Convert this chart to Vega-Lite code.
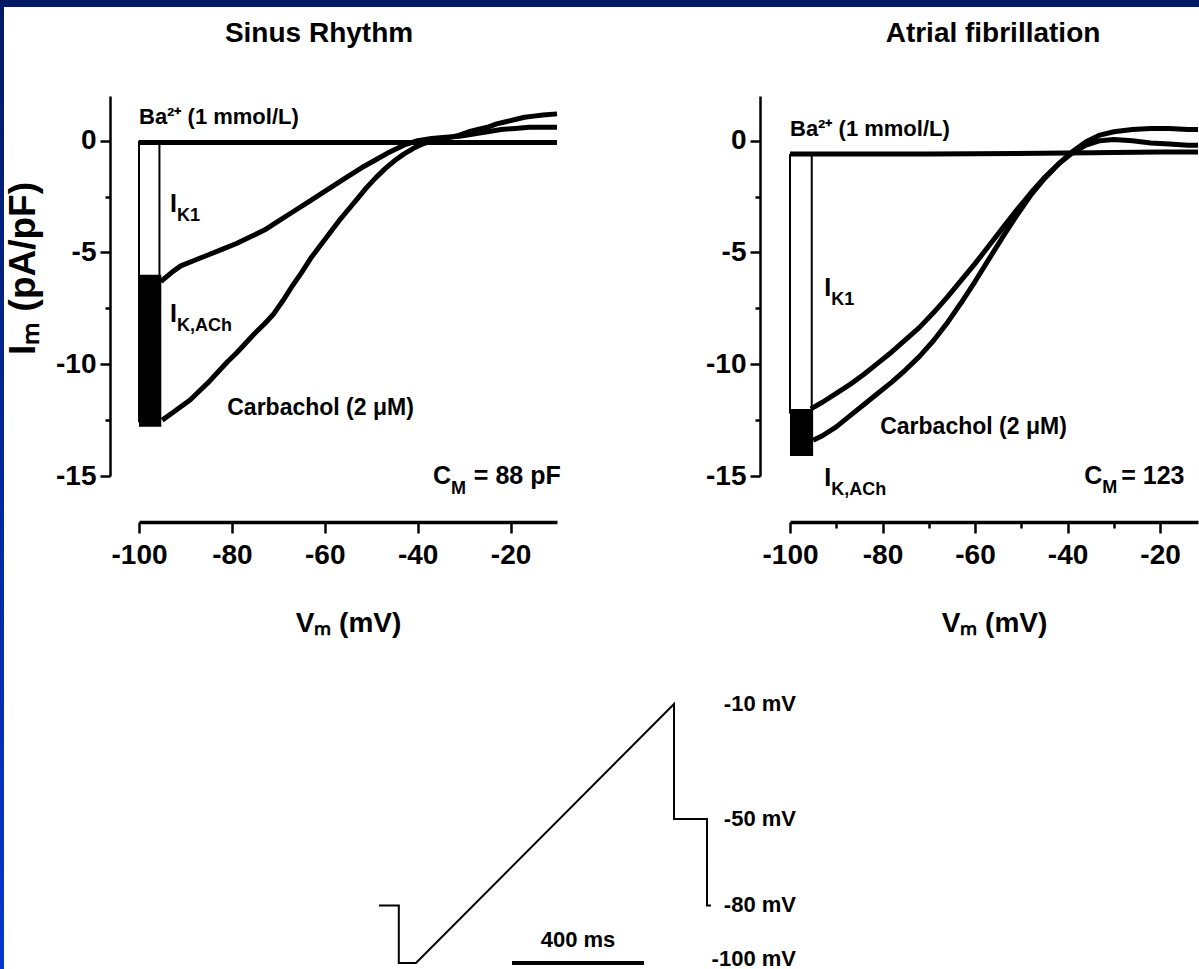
{
"$schema":"https://vega.github.io/schema/vega-lite/v6.json",
"padding":0,
"background":"white",
"config":{
 "view":{"stroke":null},
 "font":"Liberation Sans, Arial, sans-serif",
 "axis":{"grid":false,"domainColor":"black","tickColor":"black","labelColor":"black","titleColor":"black","labelFont":"Liberation Sans, Arial, sans-serif","labelFontWeight":"bold","labelFontSize":28,"titleFont":"Liberation Sans, Arial, sans-serif","titleFontWeight":"bold","titleFontSize":28,"domainWidth":2.5,"tickWidth":2.5,"labelFlush":false,"labelOverlap":false},
 "title":{"font":"Liberation Sans, Arial, sans-serif","fontWeight":"bold","fontSize":28,"color":"black"},
 "text":{"font":"Liberation Sans, Arial, sans-serif","fontWeight":"bold","color":"black"}
},
"datasets":{
 "lt":[
  {"s":"ba","v":-100,"i":-0.08},{"s":"ba","v":-70,"i":-0.08},{"s":"ba","v":-40,"i":-0.08},{"s":"ba","v":-10,"i":-0.08},
  {"s":"ctrl","v":-95.3,"i":-6.3},{"s":"ctrl","v":-93,"i":-5.9},{"s":"ctrl","v":-91,"i":-5.6},{"s":"ctrl","v":-88,"i":-5.35},{"s":"ctrl","v":-85,"i":-5.1},{"s":"ctrl","v":-82,"i":-4.85},{"s":"ctrl","v":-79,"i":-4.6},{"s":"ctrl","v":-76,"i":-4.3},{"s":"ctrl","v":-73,"i":-4.0},{"s":"ctrl","v":-70,"i":-3.6},{"s":"ctrl","v":-67,"i":-3.2},{"s":"ctrl","v":-64,"i":-2.8},{"s":"ctrl","v":-61,"i":-2.4},{"s":"ctrl","v":-58,"i":-2.0},{"s":"ctrl","v":-55,"i":-1.6},{"s":"ctrl","v":-52,"i":-1.2},{"s":"ctrl","v":-49,"i":-0.85},{"s":"ctrl","v":-46,"i":-0.5},{"s":"ctrl","v":-43,"i":-0.2},{"s":"ctrl","v":-40,"i":0.0},{"s":"ctrl","v":-37,"i":0.1},{"s":"ctrl","v":-34,"i":0.15},{"s":"ctrl","v":-31,"i":0.2},{"s":"ctrl","v":-28,"i":0.3},{"s":"ctrl","v":-25,"i":0.4},{"s":"ctrl","v":-22,"i":0.5},{"s":"ctrl","v":-19,"i":0.55},{"s":"ctrl","v":-16,"i":0.6},{"s":"ctrl","v":-13,"i":0.6},{"s":"ctrl","v":-10,"i":0.6},
  {"s":"cch","v":-95,"i":-12.5},{"s":"cch","v":-93,"i":-12.2},{"s":"cch","v":-91,"i":-11.9},{"s":"cch","v":-89,"i":-11.6},{"s":"cch","v":-87,"i":-11.2},{"s":"cch","v":-85,"i":-10.8},{"s":"cch","v":-83,"i":-10.35},{"s":"cch","v":-81,"i":-9.9},{"s":"cch","v":-79,"i":-9.5},{"s":"cch","v":-77,"i":-9.05},{"s":"cch","v":-75,"i":-8.6},{"s":"cch","v":-73,"i":-8.2},{"s":"cch","v":-71,"i":-7.75},{"s":"cch","v":-69,"i":-7.15},{"s":"cch","v":-67,"i":-6.5},{"s":"cch","v":-65,"i":-5.9},{"s":"cch","v":-63,"i":-5.25},{"s":"cch","v":-61,"i":-4.7},{"s":"cch","v":-59,"i":-4.15},{"s":"cch","v":-57,"i":-3.6},{"s":"cch","v":-55,"i":-3.1},{"s":"cch","v":-53,"i":-2.6},{"s":"cch","v":-51,"i":-2.1},{"s":"cch","v":-49,"i":-1.65},{"s":"cch","v":-47,"i":-1.25},{"s":"cch","v":-45,"i":-0.9},{"s":"cch","v":-43,"i":-0.6},{"s":"cch","v":-41,"i":-0.35},{"s":"cch","v":-39,"i":-0.15},{"s":"cch","v":-37,"i":0.0},{"s":"cch","v":-35,"i":0.05},{"s":"cch","v":-33,"i":0.15},{"s":"cch","v":-31,"i":0.25},{"s":"cch","v":-29,"i":0.4},{"s":"cch","v":-27,"i":0.5},{"s":"cch","v":-25,"i":0.6},{"s":"cch","v":-23,"i":0.75},{"s":"cch","v":-21,"i":0.85},{"s":"cch","v":-19,"i":0.95},{"s":"cch","v":-17,"i":1.05},{"s":"cch","v":-15,"i":1.1},{"s":"cch","v":-13,"i":1.15},{"s":"cch","v":-10,"i":1.2}
 ],
 "lr":[{"v":-100,"i":0,"i2":-12.6},{"v":-95.6,"i":0,"i2":-6.3}],
 "lb":[{"v":-100,"v2":-95.2,"i":-6.0,"i2":-12.8}],
 "l26":[{"v":-100,"i":0.75,"t":"Ba²⁺ (1 mmol/L)"}],
 "l28":[{"v":-81.0,"i":-12.25,"t":"Carbachol (2 μM)"}],
 "l30":[{"v":-93.3,"i":-3.2,"t":"I"},{"v":-93.3,"i":-8.1,"t":"I"},{"v":-36.7,"i":-15.35,"t":"C"},{"v":-27.9,"i":-15.35,"t":"= 88 pF"}],
 "l21":[{"v":-91.8,"i":-3.6,"t":"K1"},{"v":-91.8,"i":-8.5,"t":"K,ACh"},{"v":-32.8,"i":-15.8,"t":"M"}],
 "rt":[
  {"s":"ba","v":-100,"i":-0.6},{"s":"ba","v":-70,"i":-0.6},{"s":"ba","v":-40,"i":-0.55},{"s":"ba","v":-20,"i":-0.5},{"s":"ba","v":-10,"i":-0.5},
  {"s":"ctrl","v":-95.5,"i":-12.0},{"s":"ctrl","v":-93,"i":-11.7},{"s":"ctrl","v":-90,"i":-11.3},{"s":"ctrl","v":-87,"i":-10.9},{"s":"ctrl","v":-84,"i":-10.45},{"s":"ctrl","v":-81,"i":-9.95},{"s":"ctrl","v":-78,"i":-9.45},{"s":"ctrl","v":-75,"i":-8.9},{"s":"ctrl","v":-72,"i":-8.35},{"s":"ctrl","v":-69,"i":-7.7},{"s":"ctrl","v":-66,"i":-7.0},{"s":"ctrl","v":-63,"i":-6.25},{"s":"ctrl","v":-60,"i":-5.5},{"s":"ctrl","v":-57,"i":-4.7},{"s":"ctrl","v":-54,"i":-3.9},{"s":"ctrl","v":-51,"i":-3.1},{"s":"ctrl","v":-48,"i":-2.35},{"s":"ctrl","v":-45,"i":-1.65},{"s":"ctrl","v":-42,"i":-1.05},{"s":"ctrl","v":-39,"i":-0.55},{"s":"ctrl","v":-36,"i":-0.2},{"s":"ctrl","v":-33,"i":0.0},{"s":"ctrl","v":-30,"i":0.05},{"s":"ctrl","v":-26,"i":0.0},{"s":"ctrl","v":-22,"i":-0.1},{"s":"ctrl","v":-18,"i":-0.15},{"s":"ctrl","v":-14,"i":-0.2},{"s":"ctrl","v":-10,"i":-0.2},
  {"s":"cch","v":-95,"i":-13.4},{"s":"cch","v":-93,"i":-13.2},{"s":"cch","v":-90,"i":-12.8},{"s":"cch","v":-87,"i":-12.3},{"s":"cch","v":-84,"i":-11.8},{"s":"cch","v":-81,"i":-11.3},{"s":"cch","v":-78,"i":-10.8},{"s":"cch","v":-75,"i":-10.25},{"s":"cch","v":-72,"i":-9.65},{"s":"cch","v":-69,"i":-8.95},{"s":"cch","v":-66,"i":-8.15},{"s":"cch","v":-63,"i":-7.25},{"s":"cch","v":-60,"i":-6.3},{"s":"cch","v":-57,"i":-5.3},{"s":"cch","v":-54,"i":-4.3},{"s":"cch","v":-51,"i":-3.35},{"s":"cch","v":-48,"i":-2.45},{"s":"cch","v":-45,"i":-1.7},{"s":"cch","v":-42,"i":-1.05},{"s":"cch","v":-39,"i":-0.5},{"s":"cch","v":-36,"i":-0.05},{"s":"cch","v":-33,"i":0.25},{"s":"cch","v":-30,"i":0.4},{"s":"cch","v":-26,"i":0.5},{"s":"cch","v":-22,"i":0.55},{"s":"cch","v":-18,"i":0.55},{"s":"cch","v":-14,"i":0.5},{"s":"cch","v":-10,"i":0.5}
 ],
 "rr":[{"v":-100,"i":-0.6,"i2":-12.2},{"v":-95.3,"i":-0.6,"i2":-12.0}],
 "rb":[{"v":-100,"v2":-95.0,"i":-12.0,"i2":-14.1}],
 "r26":[{"v":-100,"i":0.2,"t":"Ba²⁺ (1 mmol/L)"}],
 "r28":[{"v":-80.5,"i":-13.1,"t":"Carbachol (2 μM)"}],
 "r30":[{"v":-92.6,"i":-6.95,"t":"I"},{"v":-92.6,"i":-15.45,"t":"I"},{"v":-36.4,"i":-15.35,"t":"C"},{"v":-28.4,"i":-15.35,"t":"= 123"}],
 "r21":[{"v":-91.1,"i":-7.35,"t":"K1"},{"v":-91.1,"i":-15.85,"t":"K,ACh"},{"v":-32.5,"i":-15.75,"t":"M"}],
 "wf":[{"k":1,"tm":0,"mv":-80},{"k":2,"tm":60,"mv":-80},{"k":3,"tm":60,"mv":-100},{"k":4,"tm":112,"mv":-100},{"k":5,"tm":894,"mv":-10},{"k":6,"tm":894,"mv":-50},{"k":7,"tm":994,"mv":-50},{"k":8,"tm":994,"mv":-80},{"k":9,"tm":1006,"mv":-80}],
 "wbar":[{"tm":403,"tm2":803,"mv":-100}],
 "wlab":[{"tm":1263.6,"mv":-10,"lbl":"-10 mV"},{"tm":1263.6,"mv":-50,"lbl":"-50 mV"},{"tm":1263.6,"mv":-80,"lbl":"-80 mV"},{"tm":1263.6,"mv":-98.6,"lbl":"-100 mV"}],
 "wms":[{"tm":603,"mv":-94.4,"lbl":"400 ms"}]
},
"spacing":0,
"vconcat":[
 {"width":1199,"height":7,"data":{"values":[{"z":1}]},"mark":{"type":"rect","color":"#021a66"},"encoding":{}},
 {"spacing":0,
  "hconcat":[
   {"width":4,"height":962,"data":{"values":[{"z":1}]},
    "mark":{"type":"rect","color":{"gradient":"linear","x1":0,"y1":0,"x2":0,"y2":1,"stops":[{"offset":0,"color":"#021a66"},{"offset":1,"color":"#0537d0"}]}},
    "encoding":{}},
   {"spacing":12,
    "vconcat":[
     {"width":10,"height":1,"data":{"values":[{"z":1}]},"mark":{"type":"rect","opacity":0},"encoding":{}},
     {"spacing":144,
      "hconcat":[
       {"width":418,"height":380,
        "title":{"text":"Sinus Rhythm","frame":"group","anchor":"middle","dx":-29,"offset":20,"baseline":"bottom"},
        "resolve":{"axis":{"y":"independent","x":"independent"}},
        "layer":[
         {"data":{"name":"lt"},"mark":{"type":"line","strokeWidth":5,"color":"black","strokeJoin":"round"},
          "encoding":{
           "x":{"field":"v","type":"quantitative","scale":{"domain":[-100,-10],"nice":false,"zero":false},
                "axis":{"orient":"bottom","values":[-100,-80,-60,-40,-20],"labelExpr":"'' + datum.value","offset":46,"tickSize":11,"labelPadding":8,"title":"Vₘ (mV)","titlePadding":40,"domainWidth":3.5}},
           "y":{"field":"i","type":"quantitative","scale":{"domain":[-15,2],"nice":false,"zero":false},
                "axis":{"orient":"left","values":[0,-5,-10,-15],"labelExpr":"'' + datum.value","offset":29,"tickSize":10,"labelPadding":4,"title":"Iₘ (pA/pF)","titleFontSize":37,"titlePadding":13,"titleY":172}},
           "detail":{"field":"s"}}},
         {"data":{"name":"lr"},"mark":{"type":"rule","strokeWidth":2,"color":"black"},
          "encoding":{
           "x":{"field":"v","type":"quantitative","axis":null},
           "y":{"field":"i","type":"quantitative","axis":{"orient":"left","values":[-2.5,-7.5,-12.5],"offset":29,"tickSize":5,"labels":false,"domain":false,"title":null}},
           "y2":{"field":"i2"}}},
         {"data":{"name":"lb"},"mark":{"type":"rect","color":"black"},
          "encoding":{"x":{"field":"v","type":"quantitative","axis":null},"x2":{"field":"v2"},"y":{"field":"i","type":"quantitative","axis":null},"y2":{"field":"i2"}}},
         {"data":{"name":"l26"},"mark":{"type":"text","align":"left","baseline":"alphabetic","fontSize":22},
          "encoding":{"x":{"field":"v","type":"quantitative","axis":null},"y":{"field":"i","type":"quantitative","axis":null},"text":{"field":"t"}}},
         {"data":{"name":"l28"},"mark":{"type":"text","align":"left","baseline":"alphabetic","fontSize":23},
          "encoding":{"x":{"field":"v","type":"quantitative","axis":null},"y":{"field":"i","type":"quantitative","axis":null},"text":{"field":"t"}}},
         {"data":{"name":"l30"},"mark":{"type":"text","align":"left","baseline":"alphabetic","fontSize":25},
          "encoding":{"x":{"field":"v","type":"quantitative","axis":null},"y":{"field":"i","type":"quantitative","axis":null},"text":{"field":"t"}}},
         {"data":{"name":"l21"},"mark":{"type":"text","align":"left","baseline":"alphabetic","fontSize":18},
          "encoding":{"x":{"field":"v","type":"quantitative","axis":null},"y":{"field":"i","type":"quantitative","axis":null},"text":{"field":"t"}}}
        ]},
       {"width":408,"height":380,
        "title":{"text":"Atrial fibrillation","frame":"group","anchor":"middle","dx":-1,"offset":20,"baseline":"bottom"},
        "resolve":{"axis":{"y":"independent","x":"independent"}},
        "layer":[
         {"data":{"name":"rt"},"mark":{"type":"line","strokeWidth":5,"color":"black","strokeJoin":"round","clip":true},
          "encoding":{
           "x":{"field":"v","type":"quantitative","scale":{"domain":[-100,-11.8],"nice":false,"zero":false},
                "axis":{"orient":"bottom","values":[-100,-80,-60,-40,-20],"labelExpr":"'' + datum.value","offset":46,"tickSize":11,"labelPadding":8,"title":"Vₘ (mV)","titlePadding":40,"domainWidth":3.5}},
           "y":{"field":"i","type":"quantitative","scale":{"domain":[-15,2],"nice":false,"zero":false},
                "axis":{"orient":"left","values":[0,-5,-10,-15],"labelExpr":"'' + datum.value","offset":30,"tickSize":10,"labelPadding":4,"title":null}},
           "detail":{"field":"s"}}},
         {"data":{"name":"rr"},"mark":{"type":"rule","strokeWidth":2,"color":"black"},
          "encoding":{
           "x":{"field":"v","type":"quantitative","axis":{"orient":"bottom","values":[-90,-70,-50,-30],"offset":46,"tickSize":6,"labels":false,"domain":false,"title":null}},
           "y":{"field":"i","type":"quantitative","axis":{"orient":"left","values":[-2.5,-7.5,-12.5],"offset":30,"tickSize":5,"labels":false,"domain":false,"title":null}},
           "y2":{"field":"i2"}}},
         {"data":{"name":"rb"},"mark":{"type":"rect","color":"black"},
          "encoding":{"x":{"field":"v","type":"quantitative","axis":null},"x2":{"field":"v2"},"y":{"field":"i","type":"quantitative","axis":null},"y2":{"field":"i2"}}},
         {"data":{"name":"r26"},"mark":{"type":"text","align":"left","baseline":"alphabetic","fontSize":22},
          "encoding":{"x":{"field":"v","type":"quantitative","axis":null},"y":{"field":"i","type":"quantitative","axis":null},"text":{"field":"t"}}},
         {"data":{"name":"r28"},"mark":{"type":"text","align":"left","baseline":"alphabetic","fontSize":23},
          "encoding":{"x":{"field":"v","type":"quantitative","axis":null},"y":{"field":"i","type":"quantitative","axis":null},"text":{"field":"t"}}},
         {"data":{"name":"r30"},"mark":{"type":"text","align":"left","baseline":"alphabetic","fontSize":25},
          "encoding":{"x":{"field":"v","type":"quantitative","axis":null},"y":{"field":"i","type":"quantitative","axis":null},"text":{"field":"t"}}},
         {"data":{"name":"r21"},"mark":{"type":"text","align":"left","baseline":"alphabetic","fontSize":18},
          "encoding":{"x":{"field":"v","type":"quantitative","axis":null},"y":{"field":"i","type":"quantitative","axis":null},"text":{"field":"t"}}}
        ]}
      ]},
     {"width":860,"height":321,
      "layer":[
       {"data":{"name":"wf"},"mark":{"type":"line","strokeWidth":2,"color":"black"},
        "encoding":{
         "x":{"field":"tm","type":"quantitative","scale":{"domain":[-727.3,1878.8],"nice":false,"zero":false},"axis":null},
         "y":{"field":"mv","type":"quantitative","scale":{"domain":[-102.43,9.11],"nice":false,"zero":false},"axis":null},
         "order":{"field":"k"}}},
       {"data":{"name":"wbar"},"mark":{"type":"rule","strokeWidth":4,"color":"black"},
        "encoding":{"x":{"field":"tm","type":"quantitative","axis":null},"x2":{"field":"tm2"},"y":{"field":"mv","type":"quantitative","axis":null}}},
       {"data":{"name":"wlab"},"mark":{"type":"text","align":"right","baseline":"middle","fontSize":22},
        "encoding":{"x":{"field":"tm","type":"quantitative","axis":null},"y":{"field":"mv","type":"quantitative","axis":null},"text":{"field":"lbl"}}},
       {"data":{"name":"wms"},"mark":{"type":"text","align":"center","baseline":"alphabetic","fontSize":22},
        "encoding":{"x":{"field":"tm","type":"quantitative","axis":null},"y":{"field":"mv","type":"quantitative","axis":null},"text":{"field":"lbl"}}}
      ]}
    ]}
  ]}
]
}
